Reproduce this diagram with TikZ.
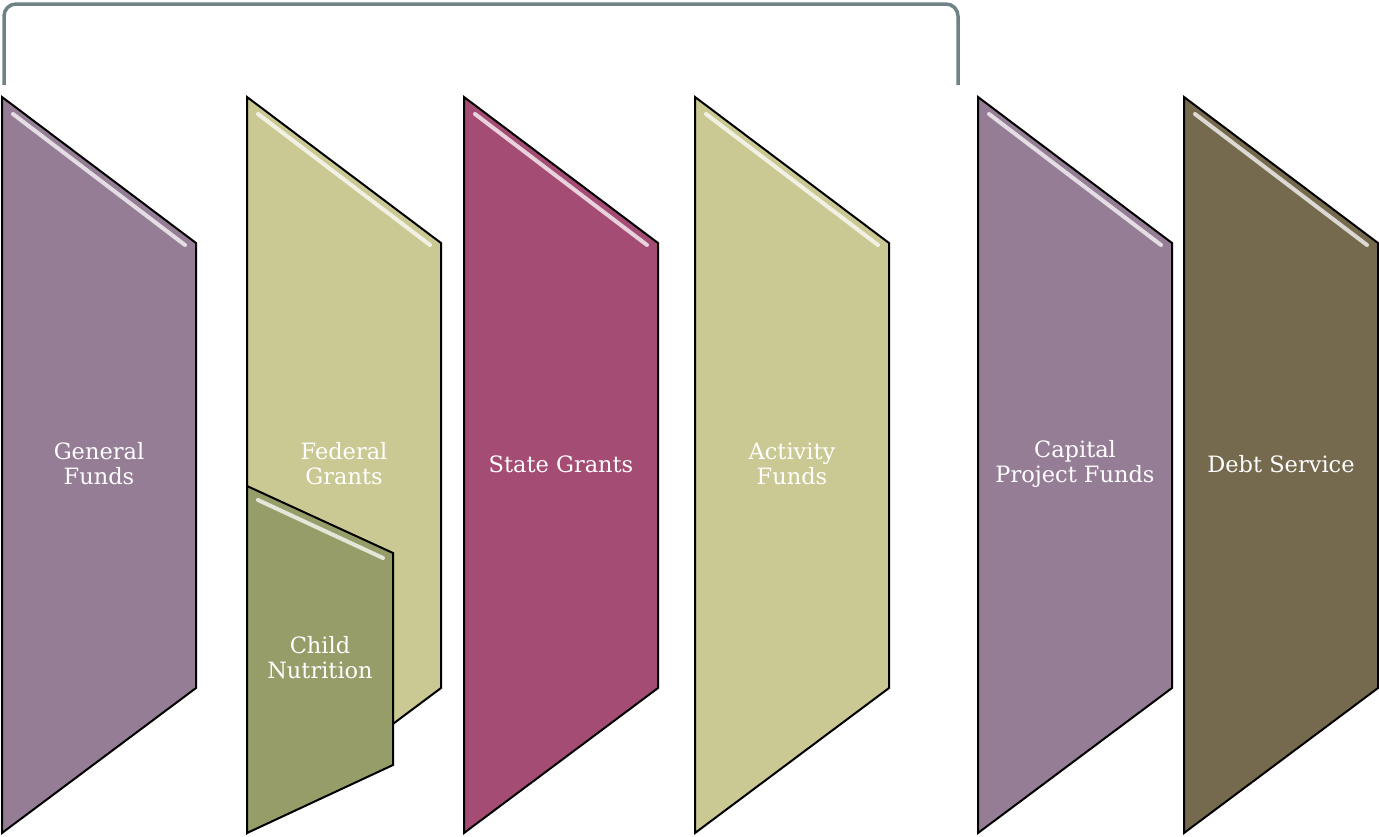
\documentclass[tikz,border=0pt]{standalone}
\usepackage{fontspec}
\setmainfont{DejaVu Serif}
\usepackage{xcolor}
\usepackage{tikz}

\definecolor{fundpurple}{HTML}{967D96}
\definecolor{fundkhaki}{HTML}{CBC993}
\definecolor{fundolive}{HTML}{969D68}
\definecolor{fundberry}{HTML}{A44C74}
\definecolor{fundbrown}{HTML}{756A4E}
\definecolor{bracketgray}{HTML}{6F8285}

\begin{document}
\begin{tikzpicture}[x=1pt,y=-1pt,
	fund/.style={draw=black, line width=2pt, line join=miter},
	shine/.style={draw=white, line width=4pt, line cap=round, draw opacity=0.75},
	label/.style={text=white, align=center, font=\fontsize{22.5}{25}\selectfont}]
	\useasboundingbox (0,0) rectangle (1379,836);
	
	% Bracket over the first four funds
	\draw[color=bracketgray, line width=3.5pt, rounded corners=12pt]
	(4,85) -- (4,4) -- (958,4) -- (958,85);
	
	% Fund panels
	\foreach \x/\c/\n/\t in {2/fundpurple/general/{General\\Funds},
		247/fundkhaki/federal/{Federal\\Grants},
		464/fundberry/state/{State Grants},
		695/fundkhaki/activity/{Activity\\Funds},
		978/fundpurple/capital/{Capital\\Project Funds},
		1184/fundbrown/debt/{Debt Service}}{
		\draw[fund, fill=\c] (\x,97) -- ++(194,146) -- ++(0,445) -- (\x,833) -- cycle;
		\draw[shine] (\x+11,114) -- (\x+183,245);
		\node[label] (\n) at (\x+97,464) {\t};
	}
	
	% Child nutrition in front of the federal grants
	\draw[fund, fill=fundolive] (247,486) -- (393,553) -- (393,765) -- (247,833) -- cycle;
	\draw[shine] (258,500) -- (383,558);
	\node[label] (nutrition) at (320,658) {Child\\Nutrition};
\end{tikzpicture}
\end{document}
